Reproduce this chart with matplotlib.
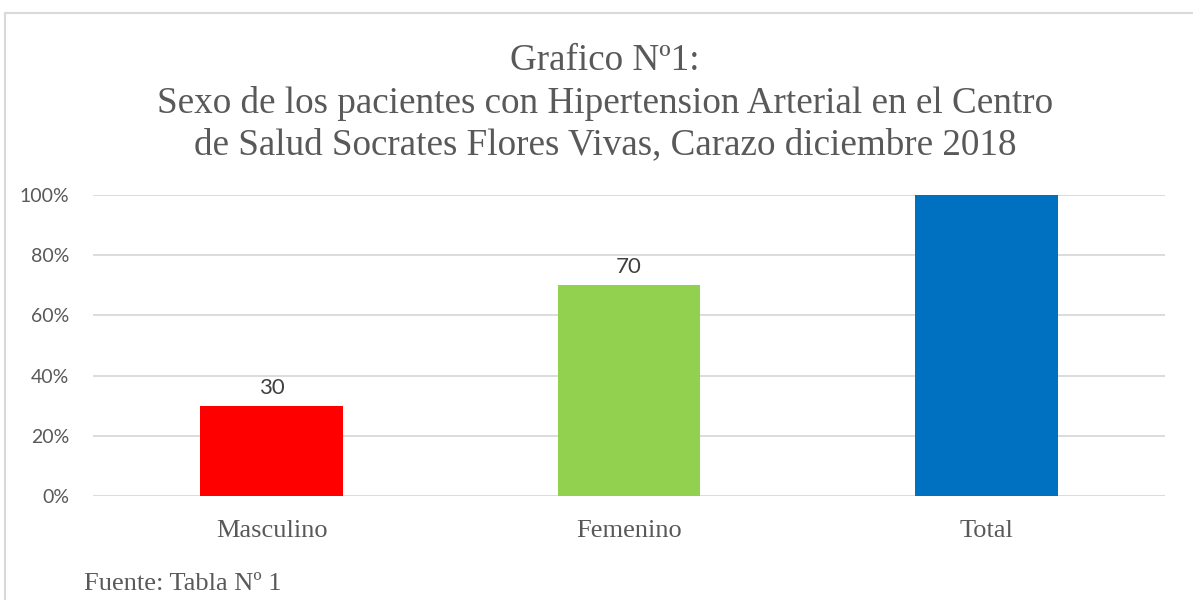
import matplotlib.pyplot as plt
from matplotlib.patches import Rectangle
from matplotlib.ticker import PercentFormatter

# datos del gráfico
categorias = ["Masculino", "Femenino", "Total"]
valores = [0.30, 0.70, 1.00]
etiquetas = ["30", "70", ""]
colores = ["#FF0000", "#92D050", "#0070C0"]
ticks_y = [0, 0.2, 0.4, 0.6, 0.8, 1.0]

titulo = ("Grafico Nº1:\n"
          "Sexo de los pacientes con Hipertension Arterial en el Centro\n"
          "de Salud Socrates Flores Vivas, Carazo diciembre 2018")
fuente = "Fuente: Tabla Nº 1"

gris = "#595959"
serif = ["Liberation Serif", "DejaVu Serif"]
sans = ["Lato", "DejaVu Sans"]

fig = plt.figure(figsize=(11.93, 6), dpi=100)
ax = fig.add_axes([93 / 1193, 1 - 496 / 600, 1072 / 1193, 301 / 600])

x = range(len(categorias))
barras = ax.bar(x, valores, width=0.4, color=colores, zorder=3)

for b, txt in zip(barras, etiquetas):
    if txt:
        ax.annotate(txt, (b.get_x() + b.get_width() / 2, b.get_height()),
                    xytext=(0, 13), textcoords="offset points",
                    ha="center", va="center", fontsize=16,
                    color="#404040", family=sans)

ax.set_xlim(-0.5, 2.5)
ax.set_ylim(0, 1)
ax.set_yticks(ticks_y)
ax.yaxis.set_major_formatter(PercentFormatter(1.0, decimals=0))
ax.set_xticks(list(x))
ax.set_xticklabels(categorias, family=serif, fontsize=19, color=gris)
for lbl in ax.get_yticklabels():
    lbl.set_family(sans)
    lbl.set_fontsize(14)
    lbl.set_color(gris)

ax.grid(axis="y", color="#D9D9D9", linewidth=1.3, zorder=0)
for s in ax.spines.values():
    s.set_visible(False)
ax.tick_params(axis="both", length=0)
ax.tick_params(axis="y", pad=17)
ax.tick_params(axis="x", pad=17)

# título y fuente
fig.text(605 / 1193, 1 - 44 / 600, titulo, ha="center", va="top",
         fontsize=26.7, color=gris, family=serif, linespacing=1.27)
fig.text(84 / 1193, 1 - 584 / 600, fuente, ha="left", va="center",
         fontsize=19, color=gris, family=serif)

# borde del área del gráfico
fig.patches.append(Rectangle((5 / 1193, -0.05), 1.1, 1 - 13 / 600 + 0.05,
                             transform=fig.transFigure, fill=False,
                             edgecolor="#D9D9D9", linewidth=1.5))

fig.savefig("out.png", dpi=100)
